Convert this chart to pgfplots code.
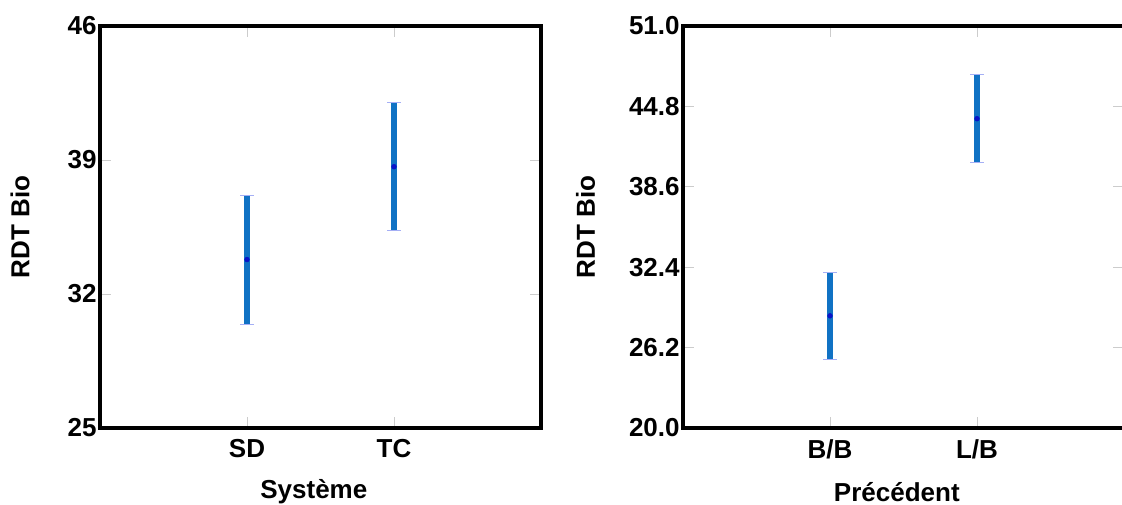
\documentclass[border=0pt]{standalone}
\usepackage{pgfplots}
\pgfplotsset{compat=1.18}
\usepackage{fontspec}
\setmainfont{Liberation Sans}
\definecolor{barblue}{RGB}{16,114,196}
\definecolor{capblue}{RGB}{165,175,245}
\definecolor{meanblue}{RGB}{10,20,200}

\pgfplotsset{
  rdt/.style={
    scale only axis,
    width=330.75pt, height=301.5pt,
    xmin=0, xmax=3,
    xtick={1,2},
    tick align=inside,
    major tick length=8pt,
    every tick/.style={gray!40, line width=0.6pt},
    axis line style={black, line width=2.3pt},
    ticklabel style={font=\fontsize{19.5}{21}\selectfont\bfseries},
    label style={font=\fontsize{19.5}{21}\selectfont\bfseries},
    /pgf/number format/assume math mode=true,
    xticklabel style={yshift=-5pt},
    yticklabel style={xshift=1pt},
    ylabel style={at={([xshift=-60pt]axis description cs:0,0.5)}, anchor=center},
    xlabel style={at={([xshift=-5pt, yshift=-48pt]axis description cs:0.5,0)}, anchor=center},
    error bars/y dir=both, error bars/y explicit,
    error bars/error bar style={barblue, line width=4.5pt},
    error bars/error mark options={capblue, line width=0.5pt, mark size=5pt, rotate=90},
  },
  meanpt/.style={only marks, mark=*, mark size=1.8pt, meanblue, forget plot},
}

\begin{document}
\begin{tikzpicture}
% Effet du système
\begin{axis}[rdt,
  ymin=25, ymax=46, ytick={25,32,39,46},
  xticklabels={SD,TC},
  xlabel={Système}, ylabel={RDT Bio}]
\addplot[draw=none, mark=none] coordinates {
  (1,33.8) +- (0,3.37)
  (2,38.65) +- (0,3.35)
};
\addplot[meanpt] coordinates {(1,33.8) (2,38.65)};
\end{axis}

% Effet du précédent
\begin{axis}[rdt, xshift=437.25pt,
  ymin=20, ymax=51, ytick={20,26.2,32.4,38.6,44.8,51},
  yticklabel style={/pgf/number format/.cd, fixed, fixed zerofill, precision=1},
  ylabel style={at={([xshift=-73pt]axis description cs:0,0.5)}},
  xticklabels={B/B,L/B},
  xlabel={Précédent}, ylabel={RDT Bio}]
\addplot[draw=none, mark=none] coordinates {
  (1,28.65) +- (0,3.37)
  (2,43.85) +- (0,3.4)
};
\addplot[meanpt] coordinates {(1,28.65) (2,43.85)};
\end{axis}

% page frame: the right border of the second panel falls just past the edge
\pgfresetboundingbox
\useasboundingbox (-75pt,-57.75pt) rectangle (766.5pt,321pt);
\end{tikzpicture}
\end{document}
